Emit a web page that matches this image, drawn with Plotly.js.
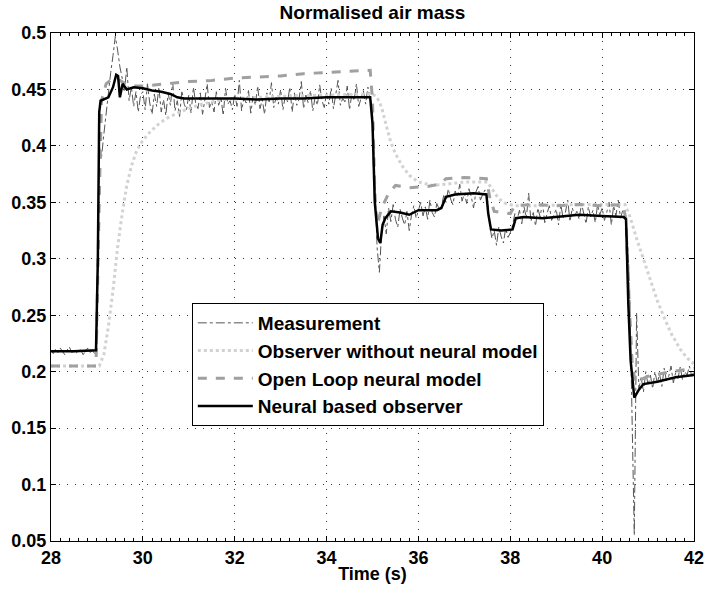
<!DOCTYPE html>
<html>
<head>
<meta charset="utf-8">
<script src="https://cdn.plot.ly/plotly-3.0.1.min.js"></script>
<style>html,body{margin:0;padding:0;background:#fff;}#chart{width:704px;height:596px;}</style>
</head>
<body>
<div id="chart"></div>
<script>
// ---------- DATA ----------
var seriesNames = ["Measurement", "Observer without neural model", "Open Loop neural model", "Neural based observer"];

// Measurement: sampled every 0.05 s from 28.00 s
var measStart = 28.0;
var measStep = 0.05;
var measValues = [
  // 28.00 - 28.95
  0.219,0.216,0.220,0.217,0.221,0.218,0.215,0.219,0.222,0.217,0.218,0.216,0.220,0.219,0.215,0.218,0.221,0.217,0.219,0.216,
  // 29.00 - 29.95
  0.225,0.400,0.390,0.410,0.430,0.450,0.465,0.480,0.497,0.485,0.470,0.460,0.448,0.470,0.440,0.452,0.435,0.448,0.430,0.445,
  // 30.00 - 30.95
  0.448,0.432,0.455,0.438,0.428,0.446,0.435,0.452,0.430,0.441,0.427,0.447,0.436,0.456,0.431,0.440,0.426,0.449,0.437,0.432,
  // 31.00 - 31.95
  0.445,0.429,0.452,0.438,0.433,0.447,0.428,0.441,0.455,0.434,0.439,0.430,0.448,0.436,0.443,0.427,0.451,0.437,0.440,0.432,
  // 32.00 - 32.95
  0.446,0.435,0.458,0.431,0.442,0.438,0.449,0.429,0.444,0.436,0.453,0.433,0.441,0.428,0.447,0.439,0.456,0.434,0.443,0.437,
  // 33.00 - 33.95
  0.450,0.432,0.444,0.439,0.452,0.430,0.447,0.436,0.441,0.457,0.433,0.445,0.438,0.449,0.431,0.443,0.436,0.454,0.440,0.434,
  // 34.00 - 34.95
  0.447,0.437,0.451,0.433,0.445,0.458,0.436,0.442,0.439,0.453,0.432,0.446,0.440,0.455,0.435,0.443,0.449,0.437,0.452,0.441,
  // 35.00 - 35.95
  0.430,0.370,0.310,0.288,0.325,0.338,0.322,0.345,0.333,0.348,0.335,0.328,0.344,0.336,0.330,0.342,0.325,0.339,0.347,0.336,
  // 36.00 - 36.95
  0.343,0.350,0.338,0.346,0.335,0.352,0.341,0.337,0.349,0.344,0.346,0.356,0.350,0.362,0.353,0.348,0.360,0.355,0.366,0.351,
  // 37.00 - 37.95
  0.358,0.349,0.362,0.355,0.345,0.359,0.364,0.352,0.357,0.361,0.354,0.330,0.318,0.325,0.312,0.328,0.320,0.314,0.327,0.319,
  // 38.00 - 38.95
  0.323,0.330,0.340,0.335,0.343,0.331,0.346,0.336,0.358,0.333,0.341,0.329,0.345,0.337,0.350,0.332,0.340,0.347,0.334,0.339,
  // 39.00 - 39.95
  0.344,0.330,0.348,0.336,0.341,0.352,0.333,0.345,0.338,0.342,0.335,0.349,0.340,0.331,0.346,0.337,0.343,0.332,0.348,0.339,
  // 40.00 - 40.95
  0.345,0.334,0.341,0.350,0.330,0.347,0.338,0.352,0.336,0.343,0.340,0.320,0.270,0.170,0.055,0.252,0.185,0.195,0.182,0.200,
  // 41.00 - 41.95
  0.188,0.197,0.185,0.200,0.190,0.198,0.187,0.203,0.192,0.196,0.205,0.190,0.199,0.194,0.204,0.193,0.200,0.197,0.205,0.196,
  // 42.00
  0.200
];

var obsTime = [28.0,29.05,29.15,29.25,29.35,29.45,29.55,29.65,29.75,29.85,29.95,30.1,30.3,30.5,30.8,31.2,31.6,32.0,33.0,34.0,35.0,35.1,35.2,35.3,35.4,35.5,35.65,35.8,36.0,36.3,36.6,37.0,37.5,37.6,37.75,37.9,38.1,38.5,39.5,40.5,40.6,40.75,40.9,41.05,41.2,41.35,41.5,41.7,41.85,42.0];
var obsValues = [0.205,0.205,0.215,0.240,0.272,0.310,0.340,0.365,0.382,0.394,0.402,0.410,0.418,0.424,0.430,0.436,0.440,0.442,0.444,0.445,0.446,0.443,0.434,0.418,0.403,0.393,0.382,0.374,0.368,0.365,0.366,0.368,0.368,0.362,0.353,0.349,0.347,0.347,0.348,0.348,0.338,0.318,0.300,0.280,0.263,0.248,0.234,0.220,0.212,0.207];

var olTime = [28.0,28.98,29.05,29.1,29.2,29.35,29.5,29.7,30.0,30.5,31.0,31.5,32.0,32.5,33.0,33.5,34.0,34.5,34.95,35.0,35.05,35.1,35.2,35.35,35.5,35.8,36.2,36.45,36.6,37.0,37.48,37.55,37.65,38.0,38.1,38.5,39.0,39.5,40.0,40.45,40.52,40.58,40.65,40.72,40.8,41.0,41.5,42.0];
var olValues = [0.205,0.205,0.350,0.440,0.455,0.460,0.458,0.453,0.453,0.455,0.457,0.458,0.460,0.461,0.462,0.464,0.465,0.466,0.467,0.440,0.360,0.330,0.345,0.358,0.365,0.363,0.364,0.366,0.371,0.372,0.371,0.355,0.342,0.340,0.347,0.348,0.347,0.348,0.347,0.348,0.335,0.270,0.210,0.190,0.192,0.196,0.200,0.203];

var nnTime = [28.0,28.5,28.98,29.02,29.05,29.08,29.25,29.35,29.42,29.46,29.5,29.56,29.65,29.8,30.0,30.2,30.4,30.6,30.75,30.9,31.5,32.0,32.5,33.0,33.5,34.0,34.5,34.95,35.0,35.05,35.12,35.17,35.22,35.28,35.4,35.6,35.8,36.0,36.4,36.5,36.6,36.8,37.2,37.48,37.52,37.58,37.8,38.05,38.12,38.3,38.7,39.0,39.5,40.0,40.47,40.52,40.57,40.62,40.7,40.8,40.9,41.2,41.6,42.0];
var nnValues = [0.218,0.218,0.219,0.300,0.430,0.440,0.443,0.452,0.463,0.462,0.443,0.455,0.450,0.452,0.451,0.449,0.448,0.446,0.443,0.442,0.442,0.442,0.441,0.442,0.442,0.443,0.443,0.443,0.420,0.350,0.318,0.314,0.330,0.336,0.342,0.341,0.339,0.343,0.343,0.345,0.355,0.357,0.358,0.357,0.340,0.326,0.325,0.326,0.336,0.337,0.336,0.337,0.339,0.338,0.337,0.335,0.260,0.210,0.177,0.184,0.189,0.191,0.195,0.197];

// ---------- BUILD ----------
var measTime = measValues.map(function(_, i){ return +(measStart + i*measStep).toFixed(2); });
var FONT = "Liberation Sans, Arial, Helvetica, sans-serif";

var traces = [
  {x: measTime, y: measValues, name: seriesNames[0], mode: "lines", legendgroup: "a",
   line: {color: "#555555", width: 1, dash: "dashdot"}},
  {x: obsTime, y: obsValues, name: seriesNames[1], mode: "lines", legendgroup: "b",
   line: {color: "#d2d2d2", width: 3, dash: "dot"}},
  {x: olTime, y: olValues, name: seriesNames[2], mode: "lines", legendgroup: "c",
   line: {color: "#a0a0a0", width: 3, dash: "dash"}},
  {x: nnTime, y: nnValues, name: seriesNames[3], mode: "lines", legendgroup: "d",
   line: {color: "#000000", width: 2.5}}
];

var axisCommon = {
  showline: true, linecolor: "#000", linewidth: 1, mirror: "ticks",
  ticks: "inside", ticklen: 5, tickcolor: "#000",
  showgrid: true, gridcolor: "#333", gridwidth: 1, griddash: "1px,7px",
  zeroline: false, ticklabeloverflow: "allow",
  tickfont: {family: FONT, size: 18, color: "#000", weight: "bold"}
};

var layout = {
  width: 704, height: 596,
  margin: {l: 51, r: 10, t: 33, b: 55},
  paper_bgcolor: "#fff", plot_bgcolor: "#fff",
  title: {text: "Normalised air mass", font: {family: FONT, size: 19, color: "#000", weight: "bold"},
          x: 0.5, xref: "paper", y: 0.979, yref: "container", yanchor: "middle"},
  xaxis: Object.assign({}, axisCommon, {
    range: [28, 42], dtick: 2, tick0: 28,
    minor: {ticks: "inside", ticklen: 3, dtick: 0.2, tickcolor: "#000", showgrid: false},
    title: {text: "Time (s)", font: {family: FONT, size: 18, color: "#000", weight: "bold"}, standoff: 0}
  }),
  yaxis: Object.assign({}, axisCommon, {
    range: [0.05, 0.5], dtick: 0.05, tick0: 0.05
  }),
  showlegend: true,
  legend: {
    x: 0.219, y: 0.4685, xanchor: "left", yanchor: "top",
    bgcolor: "#fff", bordercolor: "#000", borderwidth: 1,
    font: {family: FONT, size: 19, color: "#000", weight: "bold"},
    itemwidth: 55, tracegroupgap: 0
  }
};

Plotly.newPlot("chart", traces, layout, {displayModeBar: false, staticPlot: true});
</script>
</body>
</html>
